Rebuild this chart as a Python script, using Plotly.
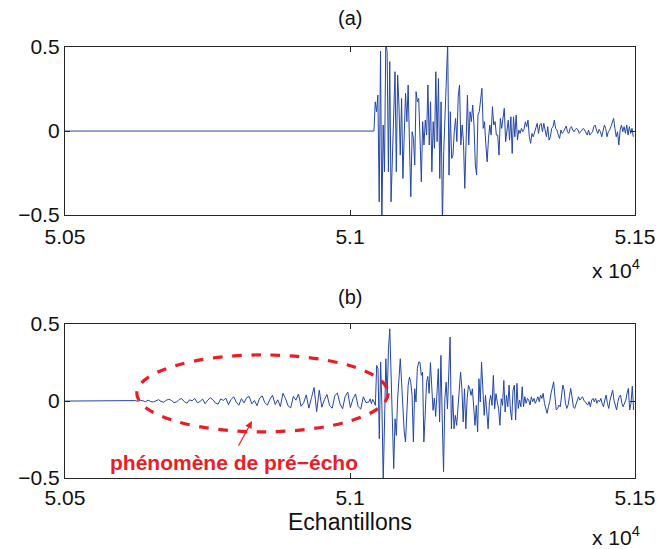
import plotly.graph_objects as go
from plotly.subplots import make_subplots

# ---------------- data ----------------
x_start = 50500
x_end = 51500
x_tickvals = [50500, 51000, 51500]
x_ticklabels = ["5.05", "5.1", "5.15"]
y_tickvals = [-0.5, 0, 0.5]

# (a) original signal: silent, then attack at sample ~51042
top_start = 51042
top_step = 2.31
top_attack = [0.000, 0.174, 0.115, 0.214, -0.421, 0.476, -0.56, 0.036, -0.242, 0.53,
              0.472, -0.242, 0.413, -0.421, -0.202, 0.056, 0.353, -0.242, 0.333, 0.155,
              -0.143, 0.194, -0.282, -0.024, 0.224, 0.056, 0.274, -0.083, -0.391, -0.004,
              -0.044, -0.202, 0.234, 0.174, 0.194, -0.044, -0.302, 0.056, -0.083, 0.065,
              -0.024, 0.274, -0.083, 0.174, -0.242, 0.056, -0.103]
top_middle = [0.353, -0.063, 0.313, -0.282, 0.174, -0.56, -0.123, 0.135, 0.274, 0.52,
              -0.262, 0.115, -0.163, -0.143, -0.004, 0.075, -0.063, 0.204, 0.274, -0.083,
              0.036, -0.063, -0.341, 0.016, 0.214, -0.083, 0.115, 0.056, 0.155, 0.036,
              -0.202, -0.262, 0.095, 0.115, 0.174, 0.254, 0.016, 0.056, -0.083, -0.183,
              -0.044, 0.036, -0.024, 0.145, 0.036, 0.056, -0.024, -0.024, -0.143, 0.075,
              0.016, 0.095, 0.135, -0.063, -0.004]
top_tail = [0.065, -0.054, 0.085, -0.133, 0.085, -0.034, 0.095, -0.054, 0.006, -0.014,
            0.016, -0.004, 0.010, 0.055, 0.026, 0.065, -0.034, -0.073, -0.014, -0.034,
            -0.004, 0.026, 0.046, -0.014, 0.036, 0.046, -0.004, 0.046, -0.004, -0.034,
            0.026, -0.054, -0.034, 0.016, 0.026, 0.065, 0.016, 0.006, -0.024, -0.044,
            0.006, -0.014, -0.004, 0.016, 0.030, -0.004, -0.014, 0.016, 0.026, 0.006,
            -0.004, 0.010, 0.016, 0.006, -0.014, -0.004, 0.010, 0.016, 0.006, -0.010,
            -0.024, 0.006, -0.024, -0.014, -0.004, 0.026, 0.036, 0.006, -0.014, 0.010,
            -0.004, -0.034, 0.006, 0.036, 0.016, -0.034, -0.004, 0.006, 0.026, 0.046,
            0.075, 0.016, -0.034, -0.004, -0.083, 0.006, 0.036, -0.004, 0.026, -0.014,
            0.036, -0.024, 0.026, -0.014, 0.016, -0.034]

# (b) coded signal: pre-echo spread before the attack
pre_start = 50623
pre_step = 4.55
pre_echo = [0.003, -0.002, 0.005, 0.002, -0.004, 0.006, -0.003, -0.006, 0.004, 0.009,
            -0.002, -0.008, 0.005, 0.012, 0.004, -0.010, -0.006, 0.011, 0.016, -0.004,
            -0.014, 0.008, 0.002, 0.017, -0.011, -0.003, 0.013, -0.017, 0.006, 0.021,
            0.009, -0.013, -0.020, 0.014, 0.004, 0.019, -0.024, 0.010, 0.028, -0.006,
            -0.027, 0.016, -0.012, 0.022, 0.030, -0.018, 0.004, -0.030, 0.020, 0.034,
            -0.010, -0.026, 0.012, 0.038, -0.022, 0.008, -0.036, 0.050, 0.016, -0.032,
            -0.044, 0.030, 0.006, 0.046, -0.034, -0.010, 0.040, -0.046, 0.022, 0.088,
            -0.068, 0.070, -0.040, 0.010, 0.042, -0.030, -0.046, 0.036, 0.052, -0.018,
            -0.050, 0.030, 0.058, -0.042, 0.014, 0.046, -0.036, -0.052, 0.028, -0.010]
bot_start = 51033
bot_step = 2.30
bot_attack = [-0.006, 0.015, -0.017, 0.011, -0.006, -0.028, 0.232, 0.210, -0.245, 0.253,
              -0.028, -0.52, -0.136, 0.275, 0.015, 0.340, 0.470, 0.188, -0.071, -0.439,
              -0.115, -0.223, 0.015, 0.167, 0.275, 0.123, -0.050, -0.201, -0.266, -0.028,
              0.102, 0.156, 0.123, 0.037, -0.266, 0.080, -0.006, 0.210, 0.253, 0.253,
              0.167, 0.188, -0.266, -0.093, 0.12, 0.16, 0.05, 0.25, 0.10, -0.06,
              0.02, -0.10, 0.05]
bot_middle = [0.210, -0.136, 0.297, -0.115, -0.461, 0.015, 0.123, -0.050, 0.253, 0.416,
              -0.180, 0.037, -0.180, -0.093, -0.158, -0.050, 0.058, 0.188, 0.080, -0.136,
              0.080, -0.180, 0.015, 0.102, 0.080, 0.037, 0.080, -0.050, -0.158, -0.028,
              -0.201, 0.145, -0.006, 0.253, 0.080, -0.093, 0.037, -0.050, -0.180, -0.006,
              0.037, -0.028, 0.167, -0.050, 0.048, -0.006, -0.050, -0.158, 0.015, -0.028,
              0.134, -0.071, 0.037]
bot_tail = [-0.037, 0.104, -0.058, -0.123, 0.071, 0.104, -0.123, 0.115, -0.048, 0.006,
            -0.037, 0.093, -0.037, 0.028, -0.015, 0.017, 0.006, -0.026, 0.028, -0.004,
            0.017, -0.015, 0.006, 0.028, -0.004, 0.039, 0.017, 0.050, -0.015, -0.048,
            -0.080, -0.037, -0.004, 0.050, 0.093, 0.125, 0.028, -0.058, -0.048, -0.026,
            -0.037, 0.028, 0.104, 0.071, -0.015, -0.048, -0.026, 0.028, 0.082, 0.028,
            -0.037, -0.048, -0.026, -0.004, 0.028, 0.006, 0.017, 0.028, 0.006, -0.004,
            -0.015, -0.026, -0.004, -0.037, 0.006, 0.017, -0.004, 0.017, -0.015, 0.006,
            -0.004, 0.017, -0.015, -0.037, 0.006, 0.039, -0.015, -0.048, 0.006, 0.050,
            0.071, 0.006, -0.026, -0.058, -0.004, 0.028, 0.039, -0.015, -0.037, -0.015,
            0.006, 0.050, 0.082, -0.058, -0.015, 0.097, -0.058]

# region highlighted by the dashed ellipse (sample range, amplitude range)
ellipse_x = [50626, 51067]
ellipse_y = [-0.20, 0.30]
arrow_head = [50828, -0.13]
arrow_tail = [50803, -0.30]
label_pos = [50797, -0.40]

# ---------------- build series ----------------
top_vals = top_attack + top_middle + top_tail
top_x = [x_start] + [top_start + top_step * i for i in range(len(top_vals))]
top_y = [0.0] + top_vals

bot_main = bot_attack + bot_middle + bot_tail
bot_x = ([x_start]
         + [pre_start + pre_step * i for i in range(len(pre_echo))]
         + [bot_start + bot_step * i for i in range(len(bot_main))])
bot_y = [0.0] + pre_echo + bot_main

FONT = "Liberation Sans, Arial, Helvetica, sans-serif"
BLUE = "#2446a6"
RED = "#ec1c24"
AX = "#262626"

fig = make_subplots(rows=2, cols=1, vertical_spacing=0.0)
fig.add_trace(go.Scatter(x=top_x, y=top_y, mode="lines",
                         line=dict(color=BLUE, width=1), hoverinfo="skip"), row=1, col=1)
fig.add_trace(go.Scatter(x=bot_x, y=bot_y, mode="lines",
                         line=dict(color=BLUE, width=1), hoverinfo="skip"), row=2, col=1)

axis_common = dict(showline=True, mirror="ticks", linecolor=AX, linewidth=1.4,
                   ticks="inside", ticklen=5, tickcolor=AX, tickwidth=1,
                   showgrid=False, zeroline=False, automargin=False,
                   tickfont=dict(family=FONT, size=21, color="#111111"))

fig.update_layout(
    width=660, height=549,
    margin=dict(l=65, r=25, t=47, b=71),
    paper_bgcolor="white", plot_bgcolor="white",
    showlegend=False,
    font=dict(family=FONT, size=21, color="#111111"),
    xaxis=dict(range=[x_start, x_end], domain=[0, 1], tickvals=x_tickvals,
               ticktext=x_ticklabels, anchor="y", ticklabelstandoff=3, **axis_common),
    yaxis=dict(range=[-0.5, 0.5], domain=[0.610, 1.0], tickvals=y_tickvals,
               anchor="x", ticklabelstandoff=0, **axis_common),
    xaxis2=dict(range=[x_start, x_end], domain=[0, 1], tickvals=x_tickvals,
                ticktext=x_ticklabels, anchor="y2", ticklabelstandoff=1, **axis_common),
    yaxis2=dict(range=[-0.5, 0.5], domain=[0.0, 0.357], tickvals=y_tickvals,
                anchor="x2", ticklabelstandoff=0, **axis_common),
)

fig.add_shape(type="circle", xref="x2", yref="y2",
              x0=ellipse_x[0], x1=ellipse_x[1], y0=ellipse_y[0], y1=ellipse_y[1],
              line=dict(color=RED, width=3.2, dash="dash"), layer="above")

ann = [
    dict(text="(a)", x=0.5, y=1.0, xref="paper", yref="paper", yanchor="middle", yshift=29,
         showarrow=False, font=dict(family=FONT, size=20)),
    dict(text="(b)", x=0.5, y=0.357, xref="paper", yref="paper", yanchor="middle", yshift=27,
         showarrow=False, font=dict(family=FONT, size=20)),
    dict(text="x 10<sup>4</sup>", x=1.013, y=0.485, xref="paper", yref="paper",
         xanchor="right", yanchor="middle", showarrow=False, font=dict(family=FONT, size=21)),
    dict(text="x 10<sup>4</sup>", x=1.013, y=-0.135, xref="paper", yref="paper",
         xanchor="right", yanchor="middle", showarrow=False, font=dict(family=FONT, size=21)),
    dict(text="Echantillons", x=0.5, y=-0.102, xref="paper", yref="paper",
         xanchor="center", yanchor="middle", showarrow=False, font=dict(family=FONT, size=23)),
    dict(text="<b>phénomène de pré−écho</b>", x=label_pos[0], y=label_pos[1],
         xref="x2", yref="y2", showarrow=False, font=dict(family=FONT, size=21, color=RED)),
    dict(text="", x=arrow_head[0], y=arrow_head[1], xref="x2", yref="y2",
         ax=arrow_tail[0], ay=arrow_tail[1], axref="x2", ayref="y2",
         showarrow=True, arrowhead=2, arrowsize=1.2, arrowwidth=1.2, arrowcolor=RED),
]
fig.update_layout(annotations=ann)

fig.write_html("out.html")
